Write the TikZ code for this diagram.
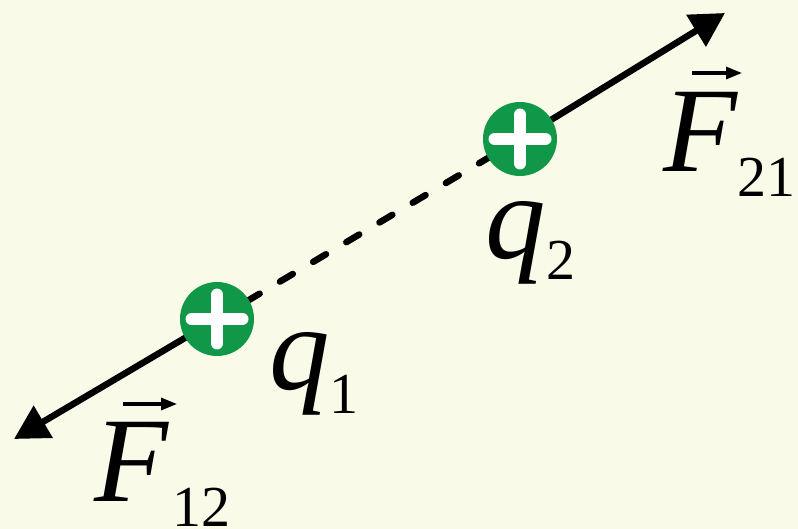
\documentclass[tikz,border=0pt]{standalone}
\usepackage{fontspec}
\setmainfont{Liberation Serif}
\usetikzlibrary{arrows.meta}
\definecolor{bg}{RGB}{250,250,232}
\definecolor{chg}{RGB}{16,152,72}
\newcommand\mysub[3]{\kern#1pt\raisebox{-#2pt}{\fontsize{58}{58}\selectfont\upshape #3}}
\tikzset{
  charge/.style={circle,fill=chg,minimum size=74pt,inner sep=0pt},
  force/.style={line width=6.5pt,-{Triangle[length=34pt,width=36pt]}},
  link/.style={line width=6.5pt,line cap=round,dash pattern=on 15pt off 23.6pt,dash phase=4pt},
  sym/.style={inner sep=0pt,anchor=base west,font=\fontsize{121}{121}\selectfont\itshape},
  vecarr/.style={line width=3.2pt,-{Triangle[length=16pt,width=12pt]}},
  plusbar/.style={white,line width=12pt,line cap=round},
}
\begin{document}
\begin{tikzpicture}[x=1pt,y=-1pt]
\fill[bg] (0,0) rectangle (798,529);
\useasboundingbox (0,0) rectangle (798,529);
\coordinate (c1) at (217,319);
\coordinate (c2) at (520,139);
\coordinate (t1) at (14,439);
\coordinate (t2) at (725,13);
\draw[link] (c1) -- (c2);
\draw[force] (c1) -- (t1);
\draw[force] (c2) -- (t2);
\node[charge] (q1) at (c1) {};
\node[charge] (q2) at (c2) {};
\foreach \q in {q1,q2}{
  \draw[plusbar] ([xshift=-25.5pt]\q.center) -- ([xshift=25.5pt]\q.center);
  \draw[plusbar] ([yshift=-24.5pt]\q.center) -- ([yshift=24.5pt]\q.center);
}
\node[sym] (F12) at (94.5,501) {F\mysub{4}{25}{12}};
\node[sym] (F21) at (663.6,172) {F\mysub{0}{25}{21}};
\node[sym] (L1) at (269,389) {q\mysub{0}{24}{1}};
\node[sym] (L2) at (485,259) {q\mysub{1}{21}{2}};
\draw[vecarr] ([xshift=28.5pt,yshift=97pt]F12.base west) -- ++(54,0);
\draw[vecarr] ([xshift=28.4pt,yshift=99pt]F21.base west) -- ++(50,0);
\end{tikzpicture}
\end{document}
